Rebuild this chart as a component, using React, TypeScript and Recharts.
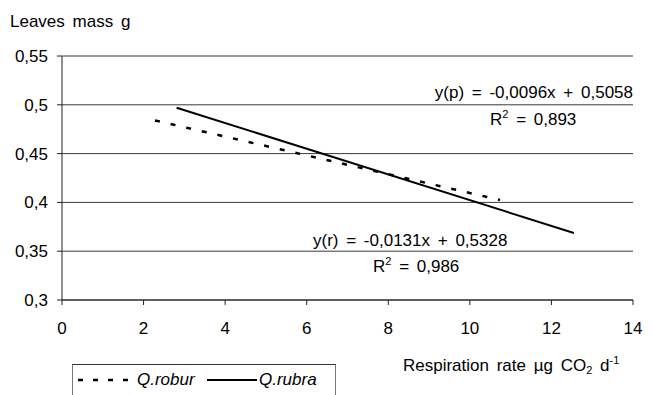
import { LineChart, Line, XAxis, YAxis, CartesianGrid } from 'recharts';

const FONT = 'Arial, "Liberation Sans", sans-serif';

// trend lines (start / end points)
const roburX = [2.28, 10.74];
const roburY = [0.484, 0.4025];
const rubraX = [2.81, 12.55];
const rubraY = [0.497, 0.3687];

const xTicks = [0, 2, 4, 6, 8, 10, 12, 14];
const yTicks = [0.3, 0.35, 0.4, 0.45, 0.5, 0.55];

const robur = roburX.map((x, i) => ({ x, y: roburY[i] }));
const rubra = rubraX.map((x, i) => ({ x, y: rubraY[i] }));

const fmt = (v: number) => String(v).replace('.', ',');

const txt: React.CSSProperties = {
  position: 'absolute',
  fontFamily: FONT,
  fontSize: 17,
  wordSpacing: 3,
  color: '#000',
  whiteSpace: 'nowrap',
  lineHeight: '16px',
};

const sup: React.CSSProperties = { fontSize: 11, verticalAlign: 7, lineHeight: 0 };
const tickStyle = { fill: '#000', fontSize: 17, fontFamily: FONT };

export default function App() {
  return (
    <div style={{ position: 'absolute', left: 0, top: 0, width: 653, height: 395, background: '#fff', overflow: 'hidden' }}>
      <LineChart width={653} height={395} margin={{ top: 56, right: 20, left: 12, bottom: 65 }}>
        <CartesianGrid vertical={false} stroke="#3a3a3a" strokeWidth={1} />
        <XAxis
          type="number"
          dataKey="x"
          domain={[0, 14]}
          ticks={xTicks}
          height={30}
          stroke="#222"
          tickSize={5}
          tickMargin={17}
          tick={tickStyle}
          allowDuplicatedCategory={false}
        />
        <YAxis
          type="number"
          domain={[0.3, 0.55]}
          ticks={yTicks}
          width={50}
          stroke="#222"
          tickSize={5}
          tickMargin={9}
          tickFormatter={fmt}
          tick={tickStyle}
        />
        <Line
          data={robur}
          dataKey="y"
          stroke="#000"
          strokeWidth={2.5}
          strokeDasharray="5 11"
          dot={false}
          isAnimationActive={false}
        />
        <Line
          data={rubra}
          dataKey="y"
          stroke="#000"
          strokeWidth={2}
          dot={false}
          isAnimationActive={false}
        />
      </LineChart>

      <div style={{ ...txt, left: 10, top: 14 }}>Leaves mass g</div>

      <div style={{ ...txt, right: 20, top: 85 }}>y(p) = -0,0096x + 0,5058</div>
      <div style={{ ...txt, left: 490, top: 112 }}>
        R<sup style={sup}>2</sup> = 0,893
      </div>

      <div style={{ ...txt, left: 313, top: 233 }}>y(r) = -0,0131x + 0,5328</div>
      <div style={{ ...txt, left: 373, top: 259 }}>
        R<sup style={sup}>2</sup> = 0,986
      </div>

      <div style={{ ...txt, left: 403, top: 358 }}>
        Respiration rate µg CO<sub style={{ ...sup, verticalAlign: -3 }}>2</sub> d
        <sup style={sup}>-1</sup>
      </div>

      {/* legend box */}
      <div
        style={{
          position: 'absolute',
          left: 72,
          top: 364,
          width: 264,
          height: 40,
          borderLeft: '1px solid #777',
          borderRight: '1px solid #777',
          borderTop: '1px solid #333',
          boxSizing: 'border-box',
        }}
      />
      <svg style={{ position: 'absolute', left: 0, top: 0 }} width={653} height={395}>
        <line x1={78} y1={380} x2={134} y2={380} stroke="#000" strokeWidth={2.5} strokeDasharray="5 10" />
        <line x1={207} y1={380} x2={257} y2={380} stroke="#000" strokeWidth={2} />
      </svg>
      <div style={{ ...txt, left: 137, top: 372, fontStyle: 'italic' }}>Q.robur</div>
      <div style={{ ...txt, left: 259, top: 372, fontStyle: 'italic' }}>Q.rubra</div>
    </div>
  );
}
